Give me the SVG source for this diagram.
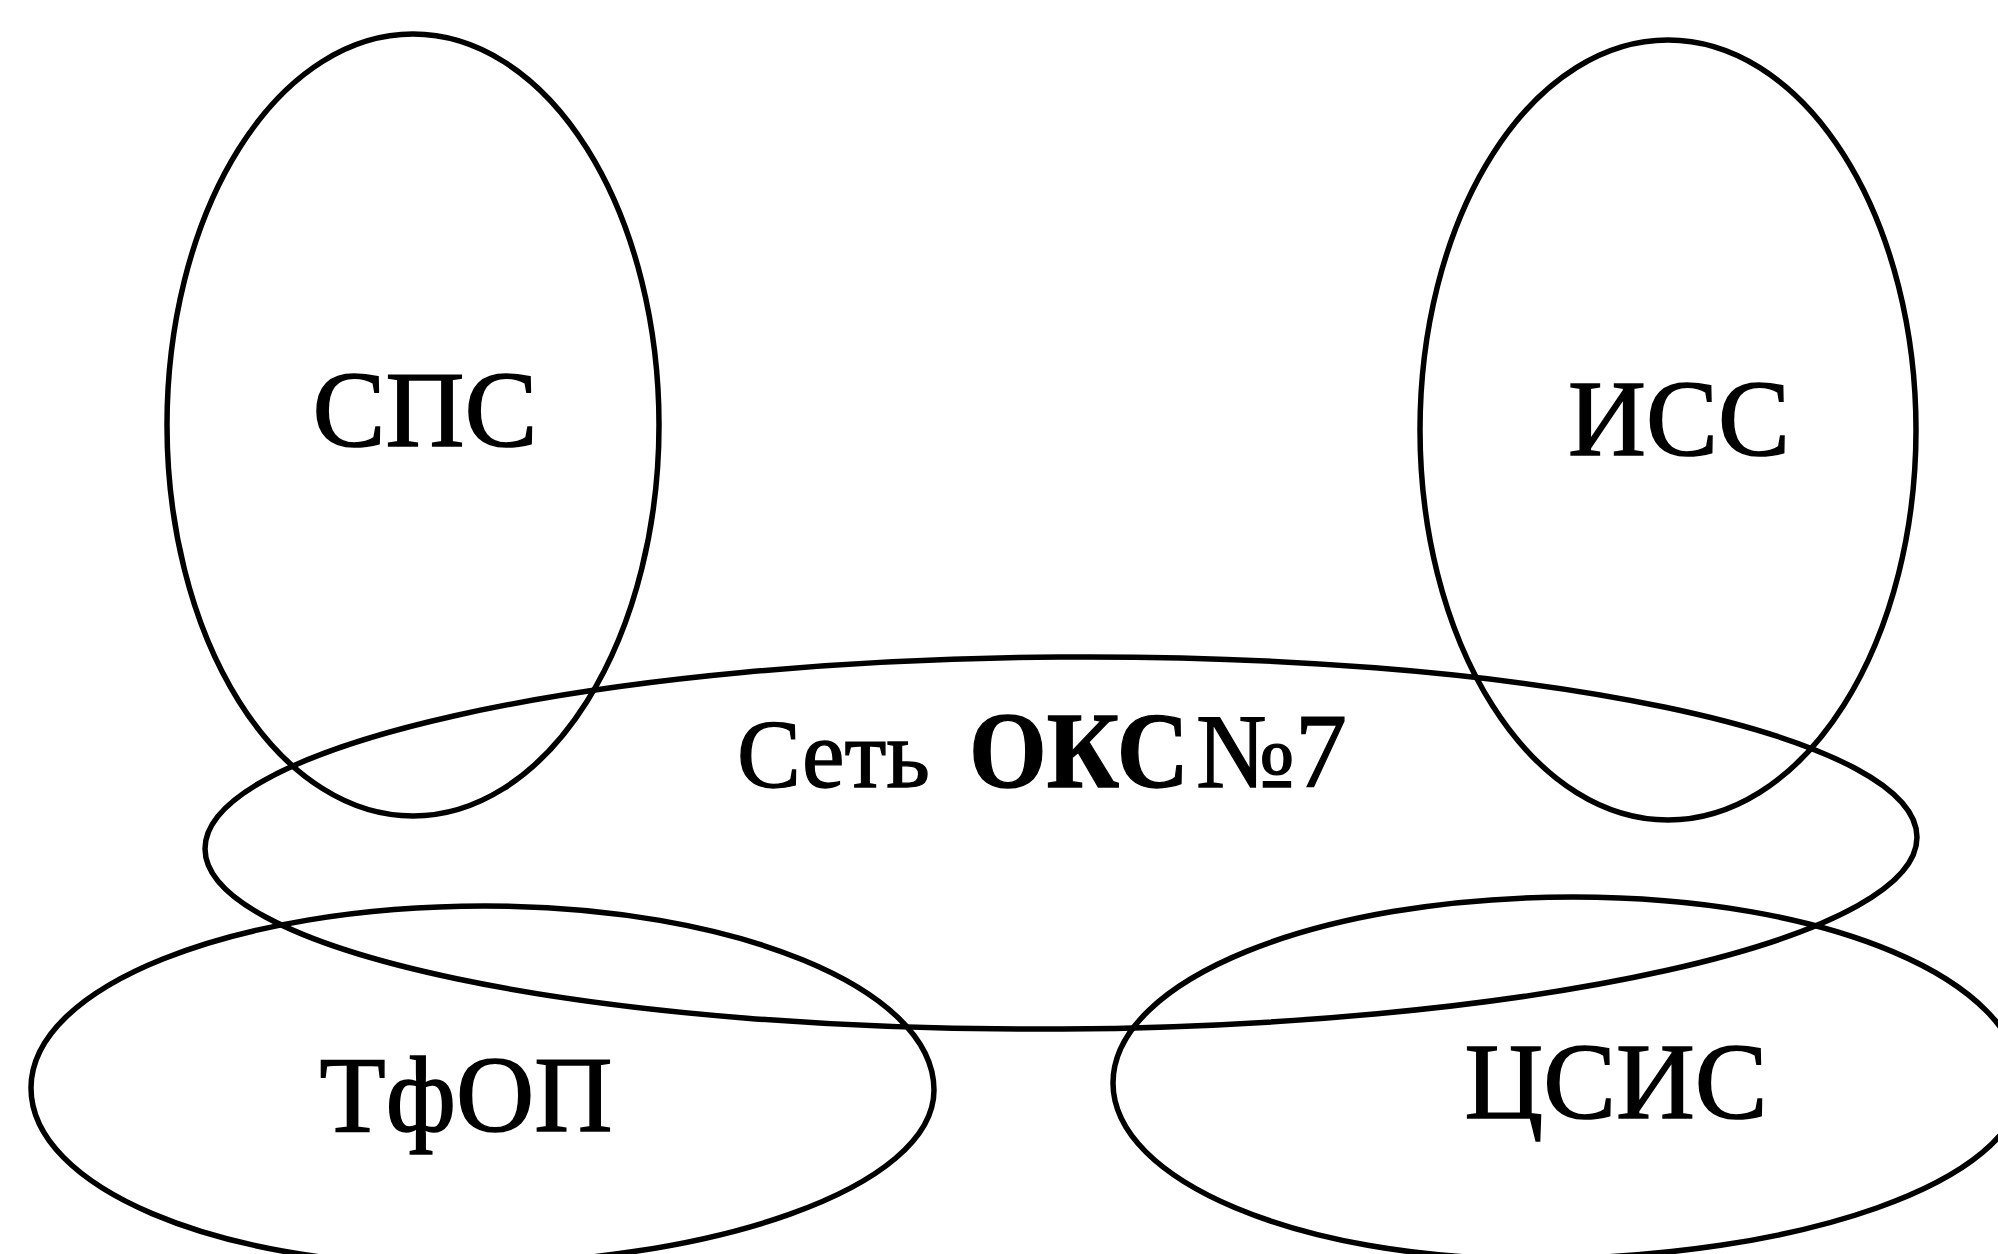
<svg xmlns="http://www.w3.org/2000/svg" width="1998" height="1254" viewBox="0 0 1998 1254">
<style>
.shape{fill:none;stroke:#000;stroke-width:5.5}
.lbl{font-family:"Liberation Serif","Times New Roman",serif;font-size:109px;fill:#000;stroke:#000;stroke-width:1.5;text-anchor:middle}
.net{font-family:"Liberation Serif","Times New Roman",serif;fill:#000;stroke:#000;stroke-width:1.3}
</style>
<rect width="1998" height="1254" fill="#fff"/>
<g id="sps">
<ellipse class="shape" cx="413" cy="425" rx="246" ry="391"/>
<text class="lbl" x="425" y="446" textLength="225" lengthAdjust="spacingAndGlyphs">СПС</text>
</g>
<g id="iss">
<ellipse class="shape" cx="1668" cy="430" rx="248" ry="390"/>
<text class="lbl" x="1679" y="455" textLength="222" lengthAdjust="spacingAndGlyphs">ИСС</text>
</g>
<g id="oks7">
<ellipse class="shape" cx="1061" cy="843" rx="856" ry="186" transform="rotate(-0.4 1061 843)"/>
<text class="net" y="787"><tspan x="737" font-size="97" textLength="193" lengthAdjust="spacingAndGlyphs">Сеть</tspan><tspan x="969" font-size="108" font-weight="bold" textLength="220" lengthAdjust="spacingAndGlyphs">ОКС</tspan><tspan x="1196" font-size="106" textLength="151" lengthAdjust="spacingAndGlyphs">№7</tspan></text>
</g>
<g id="tfop">
<path class="shape" d="M31,1088 C31,986 233,906 485,906 C733,906 934,988 934,1090 C934,1187 715,1265 445,1265 C216,1265 31,1187 31,1088 Z"/>
<text class="lbl" x="466" y="1131" textLength="293" lengthAdjust="spacingAndGlyphs">ТфОП</text>
</g>
<g id="csis">
<path class="shape" d="M1113,1083 C1113,980 1316,897 1573,897 C1828,897 2021,980 2021,1085 C2021,1181 1800,1259 1530,1259 C1300,1259 1113,1181 1113,1083 Z"/>
<text class="lbl" x="1616" y="1118" textLength="303" lengthAdjust="spacingAndGlyphs">ЦСИС</text>
</g>
<g id="connectors"/>
</svg>
